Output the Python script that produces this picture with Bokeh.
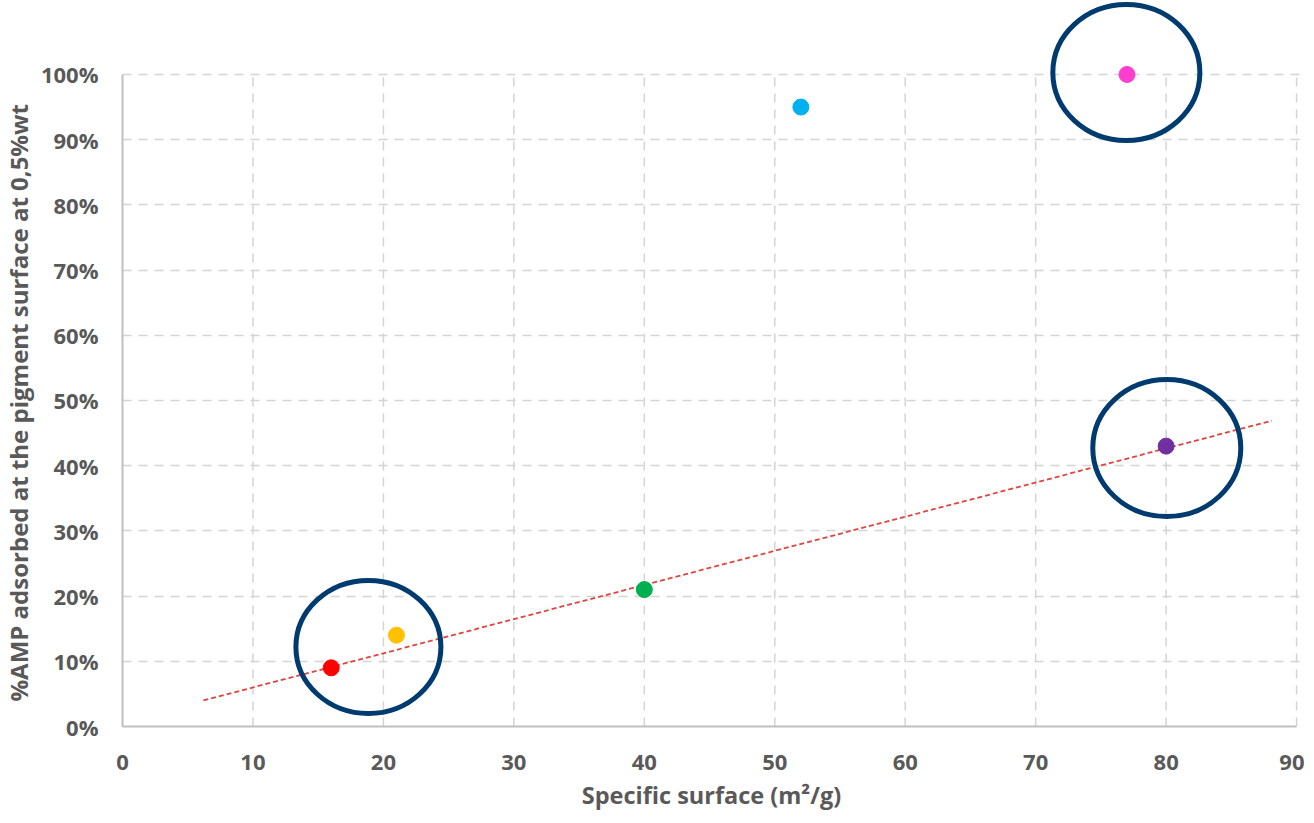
from bokeh.plotting import figure
from bokeh.models import FixedTicker, NumeralTickFormatter, Range1d, ColumnDataSource, Title
from bokeh.embed import file_html
from bokeh.resources import INLINE

# ---- data ----
surface = [16, 21, 40, 52, 77, 80]
adsorbed = [0.09, 0.14, 0.21, 0.95, 1.00, 0.43]
point_colors = ["#FF0000", "#FFC000", "#00B050", "#00B0F0", "#FF3DCF", "#7030A0"]

x_ticks = [0, 10, 20, 30, 40, 50, 60, 70, 80, 90]
y_ticks = [0.0, 0.1, 0.2, 0.3, 0.4, 0.5, 0.6, 0.7, 0.8, 0.9, 1.0]

trend_x = [6.2, 88.1]
trend_y = [0.040, 0.469]

highlight_x = [18.85, 76.95, 80.05]
highlight_y = [0.122, 1.003, 0.427]

x_title = "Specific surface (m²/g)"
y_title = "%AMP adsorbed at the pigment surface at 0,5%wt"

FONT = "Open Sans"
TXT = "#595959"

p = figure(
    frame_width=1178, frame_height=727,
    x_range=Range1d(0, 90.3), y_range=Range1d(0, 1.115),
    output_backend="svg", toolbar_location=None,
    min_border_left=130, min_border_right=4, min_border_top=7, min_border_bottom=80,
)
p.styles = {"margin-left": "-8px", "margin-top": "-8px"}
p.outline_line_color = None
p.background_fill_color = "white"
p.border_fill_color = "white"

# axes
for ax in (p.xaxis[0], p.yaxis[0]):
    ax.axis_line_color = "#BFBFBF"
    ax.axis_line_width = 2
    ax.major_tick_line_color = None
    ax.minor_tick_line_color = None
    ax.major_tick_out = 0
    ax.major_tick_in = 0
    ax.major_label_text_font = FONT
    ax.major_label_text_font_style = "bold"
    ax.major_label_text_font_size = "22px"
    ax.major_label_text_color = TXT
    ax.axis_label_text_font = FONT
    ax.axis_label_text_font_style = "bold"
    ax.axis_label_text_font_size = "23.5px"
    ax.axis_label_text_color = TXT

p.xaxis.ticker = FixedTicker(ticks=x_ticks)
p.xaxis.bounds = (x_ticks[0], x_ticks[-1])
p.xaxis.major_label_standoff = 28
p.xaxis.axis_label = x_title
p.xaxis.axis_label_standoff = 6

p.yaxis.ticker = FixedTicker(ticks=y_ticks)
p.yaxis.bounds = (y_ticks[0], y_ticks[-1])
p.yaxis.formatter = NumeralTickFormatter(format="0%")
p.yaxis.major_label_standoff = 24

# y title starting near the 0% end (frame extends above 100%)
yt = Title(text=y_title, align="left", offset=25, standoff=6,
           text_font=FONT, text_font_style="bold", text_font_size="24px",
           text_color=TXT)
p.add_layout(yt, "left")

# grid
p.xgrid.visible = False
p.ygrid.ticker = FixedTicker(ticks=y_ticks[1:])
p.ygrid.grid_line_color = "#D4D4D4"
p.ygrid.grid_line_width = 1.5
p.ygrid.grid_line_dash = "9 7"

p.segment(x0=x_ticks[1:], y0=[y_ticks[0]] * (len(x_ticks) - 1),
          x1=x_ticks[1:], y1=[y_ticks[-1]] * (len(x_ticks) - 1),
          line_color="#D4D4D4", line_width=1.5, line_dash="9 7")

# trend line
p.line(trend_x, trend_y, line_color="#E0443F", line_width=1.8, line_dash="5 3")

# points
src = ColumnDataSource(dict(x=surface, y=adsorbed, c=point_colors))
p.scatter("x", "y", source=src, size=16, fill_color="c", line_color="c")

# highlight ellipses
p.ellipse(x=highlight_x, y=highlight_y, width=[145, 147, 148], height=[133, 136, 137],
          width_units="screen", height_units="screen",
          fill_color=None, line_color="#003B6F", line_width=5)

open("out.html", "w").write(file_html(p, INLINE))
